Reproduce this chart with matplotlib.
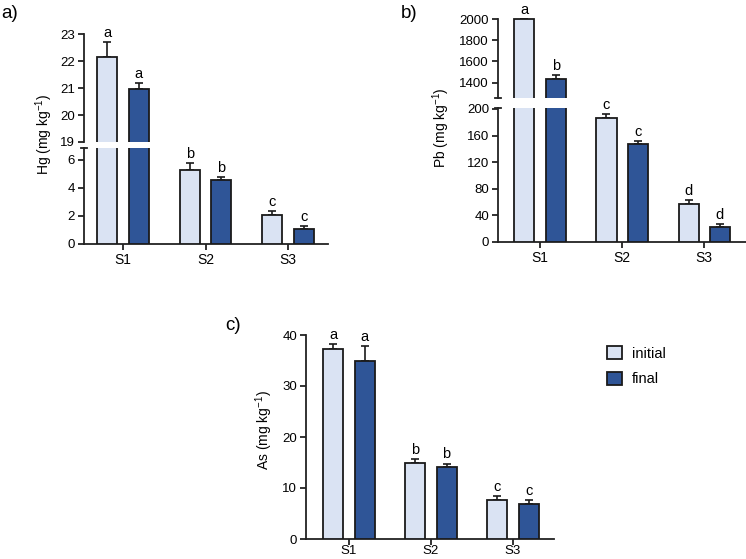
import matplotlib
matplotlib.use("Agg")
import matplotlib.pyplot as plt
import numpy as np
from matplotlib.patches import Patch

plt.rcParams['font.family'] = ['Liberation Sans', 'DejaVu Sans']
plt.rcParams['mathtext.fontset'] = 'custom'
plt.rcParams['mathtext.rm'] = 'Liberation Sans'
plt.rcParams['mathtext.it'] = 'Liberation Sans'
plt.rcParams['mathtext.default'] = 'regular'

sites = ["S1", "S2", "S3"]
series = ["initial", "final"]
colors = ["#dae3f3", "#2f5597"]

hg_initial = [22.15, 5.3, 2.1]
hg_initial_err = [0.55, 0.5, 0.25]
hg_final = [20.95, 4.55, 1.05]
hg_final_err = [0.25, 0.25, 0.2]
hg_letters = [["a", "b", "c"], ["a", "b", "c"]]

pb_initial = [2000, 187, 57]
pb_initial_err = [0, 6, 6]
pb_final = [1435, 148, 23]
pb_final_err = [40, 4, 4]
pb_letters = [["a", "c", "d"], ["b", "c", "d"]]

as_initial = [37.3, 15.0, 7.6]
as_initial_err = [0.9, 0.6, 0.8]
as_final = [35.0, 14.1, 6.8]
as_final_err = [2.8, 0.7, 0.8]
as_letters = [["a", "b", "c"], ["a", "b", "c"]]

W, H = 746, 559
fig = plt.figure(figsize=(W / 100, H / 100), dpi=100)

def rect(x0, x1, ytop, ybot):
    return [x0 / W, 1 - ybot / H, (x1 - x0) / W, (ybot - ytop) / H]

x = np.arange(1, 4)
BW = 0.245
OFF = 0.19
EC = "#1a1a1a"
TICK_FS = 9.5
XT_FS = 10
LET_FS = 10.5
YL_FS = 10

def style(ax, xlim):
    ax.set_xlim(*xlim)
    for s in ["top", "right"]:
        ax.spines[s].set_visible(False)
    for s in ["left", "bottom"]:
        ax.spines[s].set_linewidth(1.3)
        ax.spines[s].set_color("#222222")
    ax.tick_params(axis="both", length=4.5, width=1.3, labelsize=TICK_FS, color="#222222", pad=2)

def bars(ax, data):
    for i, (vals, errs) in enumerate(data):
        xs = x + (i * 2 - 1) * OFF
        ax.bar(xs, vals, width=BW, color=colors[i], edgecolor=EC, linewidth=1.3, zorder=3)
        ax.errorbar(xs, vals, yerr=[np.zeros(3), errs], fmt="none", ecolor=EC,
                    elinewidth=1.2, capsize=3, capthick=1.2, zorder=2)

def break_marks(ax, where):
    y = 0 if where == "bottom" else 1
    ax.plot([-0.012, 0.012], [y, y], transform=ax.transAxes, color="#222222",
            lw=1.3, clip_on=False, zorder=6)

# ---------------- Panel a ----------------
hg_data = [(hg_initial, hg_initial_err), (hg_final, hg_final_err)]
xl_a = (0.527, 3.485)
ax_a_up = fig.add_axes(rect(84, 328, 33, 142))
ax_a_lo = fig.add_axes(rect(84, 328, 148, 244))
for ax in (ax_a_up, ax_a_lo):
    style(ax, xl_a)
    bars(ax, hg_data)
ax_a_up.set_ylim(19, 23.04)
ax_a_up.spines["left"].set_bounds(19, 23)
ax_a_up.set_yticks([19, 20, 21, 22, 23])
ax_a_up.spines["bottom"].set_visible(False)
ax_a_up.set_xticks([])
ax_a_lo.set_ylim(0, 6.85)
ax_a_lo.set_yticks([0, 2, 4, 6])
ax_a_lo.set_xticks(x)
ax_a_lo.set_xticklabels(sites, fontsize=XT_FS)
break_marks(ax_a_lo, "top")
for i, (vals, errs) in enumerate(hg_data):
    xs = x + (i * 2 - 1) * OFF
    for xx, v, e, lt in zip(xs, vals, errs, hg_letters[i]):
        target = ax_a_up if v > 19 else ax_a_lo
        target.annotate(lt, (xx, v + e), xytext=(0, 1.5), textcoords="offset points",
                        ha="center", va="bottom", fontsize=LET_FS, annotation_clip=False)
fig.text(44 / W, 1 - 134 / H, "Hg (mg kg$^{-1}$)", rotation=90, ha="center", va="center", fontsize=YL_FS)
fig.text(1 / W, 1 - 14 / H, "a)", fontsize=13.5, ha="left", va="center")

# ---------------- Panel b ----------------
pb_data = [(pb_initial, pb_initial_err), (pb_final, pb_final_err)]
xl_b = (0.488, 3.51)
ax_b_up = fig.add_axes(rect(498, 746, 17, 98))
ax_b_lo = fig.add_axes(rect(498, 746, 108, 242))
for ax in (ax_b_up, ax_b_lo):
    style(ax, xl_b)
    bars(ax, pb_data)
ax_b_up.set_ylim(1255, 2020)
ax_b_up.spines["left"].set_bounds(1255, 2000)
ax_b_up.set_yticks([1400, 1600, 1800, 2000])
ax_b_up.spines["bottom"].set_visible(False)
ax_b_up.set_xticks([])
break_marks(ax_b_up, "bottom")
ax_b_lo.set_ylim(0, 201.5)
ax_b_lo.set_yticks([0, 40, 80, 120, 160, 200])
ax_b_lo.set_xticks(x)
ax_b_lo.set_xticklabels(sites, fontsize=XT_FS)
break_marks(ax_b_lo, "top")
for i, (vals, errs) in enumerate(pb_data):
    xs = x + (i * 2 - 1) * OFF
    for xx, v, e, lt in zip(xs, vals, errs, pb_letters[i]):
        target = ax_b_up if v > 1000 else ax_b_lo
        target.annotate(lt, (xx, v + e), xytext=(0, 1.5), textcoords="offset points",
                        ha="center", va="bottom", fontsize=LET_FS, annotation_clip=False)
fig.text(441 / W, 1 - 128 / H, "Pb (mg kg$^{-1}$)", rotation=90, ha="center", va="center", fontsize=YL_FS)
fig.text(401 / W, 1 - 13 / H, "b)", fontsize=13.5, ha="left", va="center")

# ---------------- Panel c ----------------
as_data = [(as_initial, as_initial_err), (as_final, as_final_err)]
xl_c = (0.476, 3.5)
ax_c = fig.add_axes(rect(306, 554, 335, 539))
style(ax_c, xl_c)
bars(ax_c, as_data)
for i, (vals, errs) in enumerate(as_data):
    xs = x + (i * 2 - 1) * OFF
    for xx, v, e, lt in zip(xs, vals, errs, as_letters[i]):
        ax_c.annotate(lt, (xx, v + e), xytext=(0, 1.5), textcoords="offset points",
                      ha="center", va="bottom", fontsize=LET_FS, annotation_clip=False)
ax_c.set_ylim(0, 40)
ax_c.set_yticks([0, 10, 20, 30, 40])
ax_c.set_xticks(x)
ax_c.set_xticklabels(sites, fontsize=9.5)
ax_c.tick_params(axis="x", pad=0.3, length=4)
fig.text(264 / W, 1 - 430 / H, "As (mg kg$^{-1}$)", rotation=90, ha="center", va="center", fontsize=YL_FS)
fig.text(225 / W, 1 - 326 / H, "c)", fontsize=13.5, ha="left", va="center")

handles = [Patch(facecolor=colors[i], edgecolor=EC, linewidth=1.3, label=series[i]) for i in range(2)]
fig.legend(handles=handles, loc="upper left", bbox_to_anchor=(601 / W, 1 - 340 / H),
           frameon=False, fontsize=10.5, handlelength=1.05, handleheight=1.05,
           handletextpad=0.65, labelspacing=0.75, borderaxespad=0)

fig.savefig("out.png", dpi=100)
